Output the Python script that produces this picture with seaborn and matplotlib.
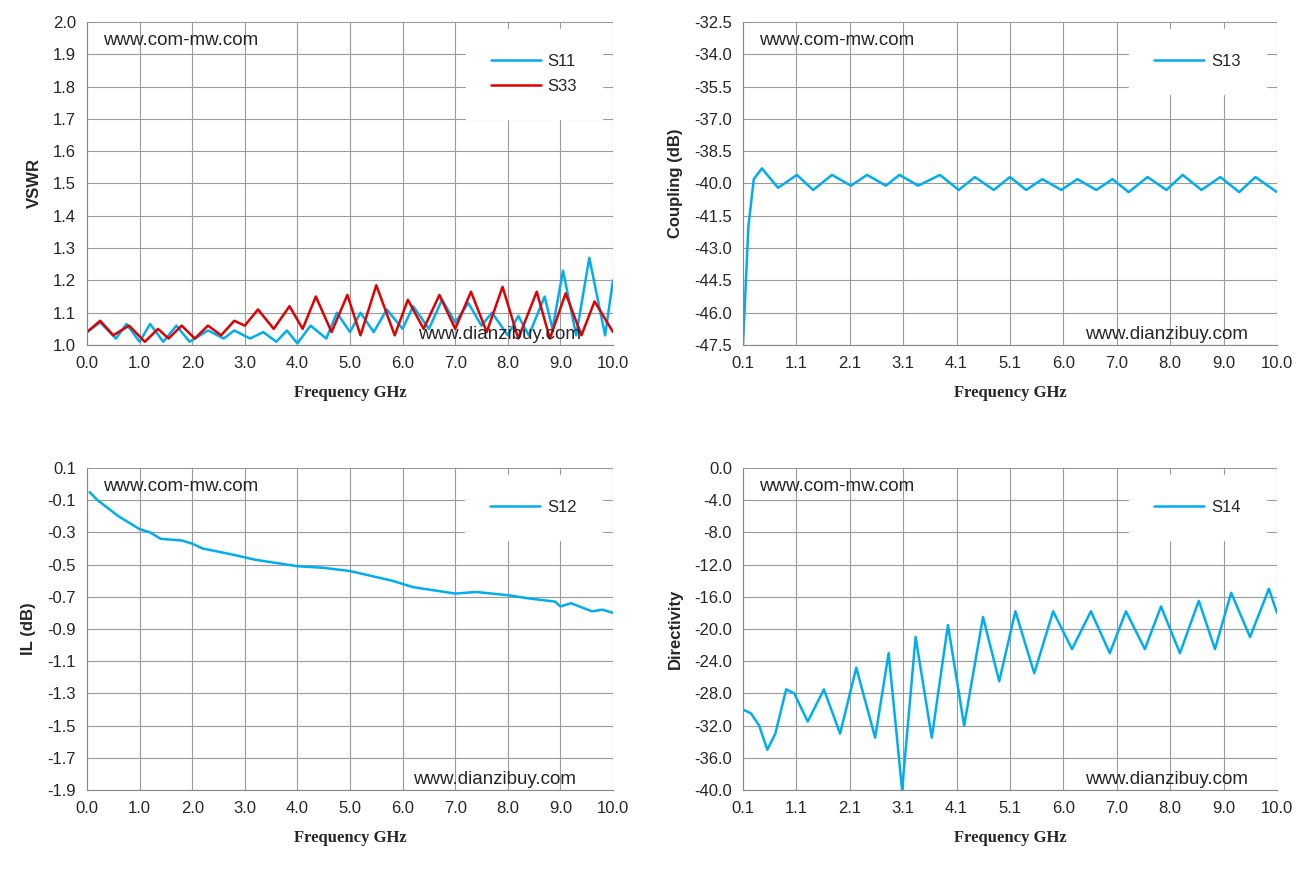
import matplotlib
matplotlib.use("Agg")
import matplotlib.pyplot as plt
import seaborn as sns
import pandas as pd

s11_f = [0,0.25,0.55,0.75,1.0,1.2,1.45,1.7,1.95,2.3,2.6,2.8,3.1,3.35,3.6,3.8,4.0,4.25,4.55,4.75,5.0,5.2,5.45,5.7,6.0,6.2,6.5,6.75,7.0,7.25,7.5,7.7,8.0,8.2,8.4,8.7,8.85,9.05,9.3,9.55,9.85,10]
s11_v = [1.04,1.07,1.02,1.065,1.01,1.065,1.01,1.06,1.01,1.045,1.02,1.045,1.02,1.04,1.01,1.045,1.005,1.06,1.02,1.10,1.04,1.10,1.04,1.11,1.05,1.12,1.05,1.14,1.07,1.13,1.06,1.10,1.03,1.09,1.03,1.15,1.05,1.23,1.03,1.27,1.03,1.20]
s33_f = [0,0.25,0.5,0.8,1.1,1.35,1.55,1.8,2.05,2.3,2.55,2.8,3.0,3.25,3.55,3.85,4.1,4.35,4.65,4.95,5.2,5.5,5.85,6.1,6.4,6.7,7.0,7.3,7.6,7.9,8.2,8.55,8.8,9.1,9.4,9.65,10]
s33_v = [1.04,1.075,1.03,1.06,1.01,1.05,1.02,1.06,1.02,1.06,1.03,1.075,1.06,1.11,1.05,1.12,1.05,1.15,1.04,1.155,1.03,1.185,1.03,1.14,1.05,1.155,1.05,1.165,1.04,1.18,1.02,1.165,1.02,1.16,1.03,1.135,1.04]
s13_f = [0.1,0.2,0.3,0.45,0.75,1.1,1.4,1.75,2.1,2.4,2.75,3.0,3.35,3.75,4.1,4.4,4.75,5.05,5.35,5.65,6.0,6.3,6.65,6.95,7.25,7.6,7.95,8.25,8.6,8.95,9.3,9.6,10]
s13_v = [-47.5,-42.0,-39.8,-39.3,-40.2,-39.6,-40.3,-39.6,-40.1,-39.6,-40.1,-39.6,-40.1,-39.6,-40.3,-39.7,-40.3,-39.7,-40.3,-39.8,-40.3,-39.8,-40.3,-39.8,-40.4,-39.7,-40.3,-39.6,-40.3,-39.7,-40.4,-39.7,-40.4]
s12_f = [0.05,0.2,0.6,1.0,1.2,1.4,1.8,2.0,2.2,2.8,3.2,3.6,4.0,4.5,5.0,5.4,5.8,6.2,6.6,7.0,7.4,8.0,8.4,8.9,9.0,9.2,9.6,9.8,10]
s12_v = [-0.05,-0.1,-0.2,-0.28,-0.3,-0.34,-0.35,-0.37,-0.4,-0.44,-0.47,-0.49,-0.51,-0.52,-0.54,-0.57,-0.6,-0.64,-0.66,-0.68,-0.67,-0.69,-0.71,-0.73,-0.76,-0.74,-0.79,-0.78,-0.8]
s14_f = [0.1,0.25,0.4,0.55,0.7,0.9,1.05,1.3,1.6,1.9,2.2,2.55,2.8,3.05,3.3,3.6,3.9,4.2,4.55,4.85,5.15,5.5,5.85,6.2,6.55,6.9,7.2,7.55,7.85,8.2,8.55,8.85,9.15,9.5,9.85,10]
s14_v = [-30,-30.5,-32,-35,-33,-27.5,-28,-31.5,-27.5,-33,-24.8,-33.5,-23,-40,-21,-33.5,-19.5,-32,-18.5,-26.5,-17.8,-25.5,-17.8,-22.5,-17.8,-23,-17.8,-22.5,-17.2,-23,-16.5,-22.5,-15.5,-21,-15,-18]

x_ticks_a = [0,1,2,3,4,5,6,7,8,9,10]
x_labels_a = ["0.0","1.0","2.0","3.0","4.0","5.0","6.0","7.0","8.0","9.0","10.0"]
x_ticks_b = [0.1+0.99*k for k in range(11)]
x_labels_b = ["0.1","1.1","2.1","3.1","4.1","5.1","6.0","7.0","8.0","9.0","10.0"]

sns.set_style("white")
plt.rcParams['font.family'] = ['Liberation Sans', 'DejaVu Sans']
BLUE = "#00AEEF"; RED = "#E00000"
W, H = 1305, 873
fig = plt.figure(figsize=(13.05, 8.73), dpi=100)

def mkax(x0, y0, x1, y1):
    return fig.add_axes([x0/W, 1-y1/H, (x1-x0)/W, (y1-y0)/H])

def style(ax, xt, xl, yt, fmt, ylabel, xlim, ylim, legbox):
    ax.set_xlim(*xlim); ax.set_ylim(*ylim)
    ax.set_xticks(xt); ax.set_xticklabels(xl, fontsize=12)
    ax.set_yticks(yt); ax.set_yticklabels([fmt.format(v) for v in yt], fontsize=12)
    ax.grid(True, color="#9a9a9a", lw=0.8)
    for s in ax.spines.values():
        s.set_visible(False)
    ax.spines['left'].set_visible(True); ax.spines['bottom'].set_visible(True)
    ax.spines['left'].set_color("#888"); ax.spines['bottom'].set_color("#888")
    ax.tick_params(length=0, pad=8)
    ax.set_xlabel("Frequency GHz", fontsize=12, fontweight="bold", family="Liberation Serif", labelpad=10)
    ax.set_ylabel(ylabel, fontsize=12, fontweight="bold", labelpad=8)
    leg = ax.legend(loc="upper right", bbox_to_anchor=legbox, frameon=True, fontsize=12,
                    borderpad=1.2, handlelength=3, handletextpad=0.4, labelspacing=0.6)
    leg.get_frame().set_edgecolor("white"); leg.get_frame().set_alpha(1)
    leg.get_frame().set_boxstyle("square")

def wm(ax, x, y, t):
    ax.text(x, y, t, transform=ax.transAxes, fontsize=13.5)

ax1 = mkax(87, 22, 613, 345)
sns.lineplot(data=pd.DataFrame({"f": s11_f, "v": s11_v}), x="f", y="v", ax=ax1, color=BLUE, lw=1.8, label="S11")
sns.lineplot(data=pd.DataFrame({"f": s33_f, "v": s33_v}), x="f", y="v", ax=ax1, color=RED, lw=1.8, label="S33")
style(ax1, x_ticks_a, x_labels_a, [1.0+0.1*k for k in range(11)], "{:.1f}", "VSWR", (0, 10), (1.0, 2.0), (0.985, 0.99))
wm(ax1, 0.03, 0.93, "www.com-mw.com"); wm(ax1, 0.63, 0.02, "www.dianzibuy.com")

ax2 = mkax(743, 22, 1277, 345)
sns.lineplot(data=pd.DataFrame({"f": s13_f, "v": s13_v}), x="f", y="v", ax=ax2, color=BLUE, lw=1.8, label="S13")
style(ax2, x_ticks_b, x_labels_b, [-47.5+1.5*k for k in range(11)], "{:.1f}", "Coupling (dB)", (0.1, 10), (-47.5, -32.5), (0.985, 0.99))
wm(ax2, 0.03, 0.93, "www.com-mw.com"); wm(ax2, 0.64, 0.02, "www.dianzibuy.com")

ax3 = mkax(87, 468, 613, 790)
sns.lineplot(data=pd.DataFrame({"f": s12_f, "v": s12_v}), x="f", y="v", ax=ax3, color=BLUE, lw=1.8, label="S12")
style(ax3, x_ticks_a, x_labels_a, [-1.9+0.2*k for k in range(11)], "{:.1f}", "IL (dB)", (0, 10), (-1.9, 0.1), (0.985, 0.99))
wm(ax3, 0.03, 0.93, "www.com-mw.com"); wm(ax3, 0.62, 0.02, "www.dianzibuy.com")

ax4 = mkax(743, 468, 1277, 790)
sns.lineplot(data=pd.DataFrame({"f": s14_f, "v": s14_v}), x="f", y="v", ax=ax4, color=BLUE, lw=1.8, label="S14")
style(ax4, x_ticks_b, x_labels_b, [-40+4*k for k in range(11)], "{:.1f}", "Directivity", (0.1, 10), (-40, 0), (0.985, 0.99))
wm(ax4, 0.03, 0.93, "www.com-mw.com"); wm(ax4, 0.64, 0.02, "www.dianzibuy.com")

fig.savefig("out.png", dpi=100)
